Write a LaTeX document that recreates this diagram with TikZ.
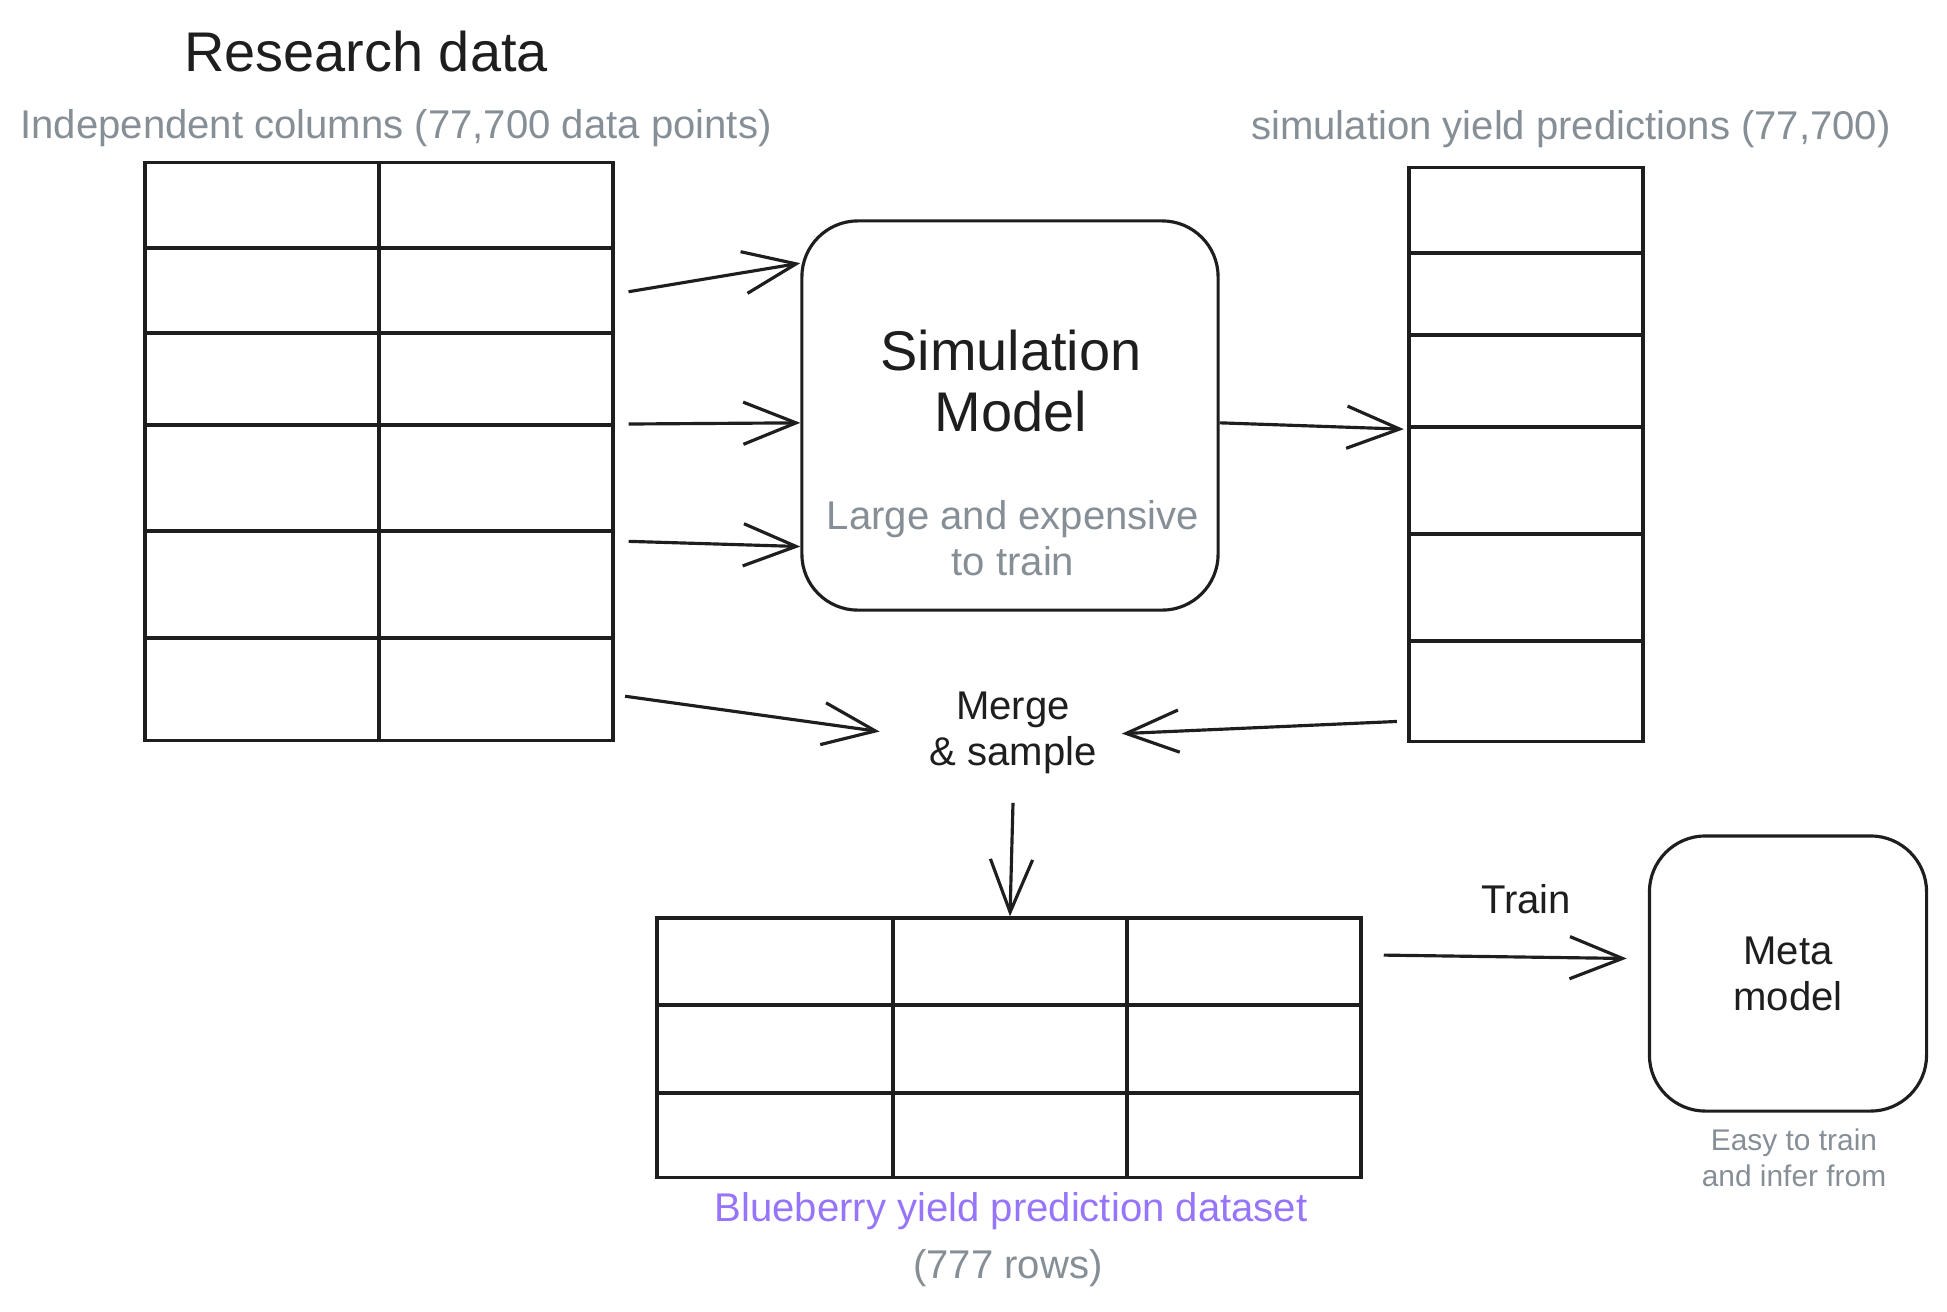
\documentclass[tikz,border=0pt]{standalone}
\usepackage{fontspec}
\setmainfont{Liberation Sans}
\usepackage{tikz}
\usetikzlibrary{arrows.meta}
\definecolor{ink}{HTML}{1E1E1E}
\definecolor{notegrey}{HTML}{868E96}
\definecolor{berry}{HTML}{9775FA}
\tikzset{>={Straight Barb[length=15pt,width=12pt]}}
\tikzset{datacol/.style = {shape=rectangle,draw=ink,line width=0.9pt,inner sep=0pt}}
\tikzset{rowline/.style = {draw=ink,line width=0.9pt}}
\tikzset{modelbox/.style = {shape=rectangle,draw=ink,line width=0.9pt,rounded corners=0.56cm,inner sep=0pt}}
\tikzset{flow/.style = {->,draw=ink,line width=0.9pt}}
\tikzset{bigtext/.style = {font=\fontsize{15.9pt}{17.6pt}\selectfont,text=ink,align=center}}
\tikzset{plaintext/.style = {font=\fontsize{11.4pt}{13.1pt}\selectfont,text=ink,align=center}}
\tikzset{greytext/.style = {font=\fontsize{11.4pt}{13.1pt}\selectfont,text=notegrey,align=center}}
\tikzset{smallgrey/.style = {font=\fontsize{8.5pt}{10.2pt}\selectfont,text=notegrey,align=center}}

\begin{document}
\begin{tikzpicture}[x=0.01cm,y=-0.01cm]
                    \useasboundingbox (0,0) rectangle (1947,1311);

                    \node[bigtext] (title) at (366,52) {Research data};
                    \node[greytext] (indep) at (396,128) {Independent columns (77,700 data points)};
                    \node[datacol,minimum width=2.34cm,minimum height=5.77cm] (lc1) at (262,451.5) {};
                    \node[datacol,minimum width=2.34cm,minimum height=5.77cm] (lc2) at (496,451.5) {};
                    \foreach \y in {248,333,425,531,638}
                        \draw[rowline] (145,\y) -- (613,\y);

                    \node[greytext] (simpred) at (1571,129) {simulation yield predictions (77,700)};
                    \node[datacol,minimum width=2.34cm,minimum height=5.73cm] (rt) at (1526,454.5) {};
                    \foreach \y in {253,335,427,534,641}
                        \draw[rowline] (1409,\y) -- (1643,\y);

                    \node[modelbox,minimum width=4.16cm,minimum height=3.89cm] (sim) at (1010,415.5) {};
                    \node[bigtext] (simname) at (1011,381) {Simulation\\Model};
                    \node[greytext] (simnote) at (1013,538) {Large and expensive\\to train};

                    \node[plaintext,inner xsep=11pt,inner ysep=8pt] (merge) at (1013,733) {Merge\\\& sample};

                    \node[datacol,minimum width=2.36cm,minimum height=2.59cm] (bc1) at (775,1047.5) {};
                    \node[datacol,minimum width=2.34cm,minimum height=2.59cm] (bc2) at (1010,1047.5) {};
                    \node[datacol,minimum width=2.34cm,minimum height=2.59cm] (bc3) at (1244,1047.5) {};
                    \foreach \y in {1005,1093}
                        \draw[rowline] (657,\y) -- (1361,\y);
                    \node[text=berry,font=\fontsize{11.4pt}{13.1pt}\selectfont] (blueberry) at (1011,1211) {Blueberry yield prediction dataset};
                    \node[greytext] (rows) at (1008,1268) {(777 rows)};

                    \node[modelbox,plaintext,minimum width=2.77cm,minimum height=2.75cm] (meta) at (1788,973.5) {Meta\\model};
                    \node[smallgrey] (metanote) at (1794,1158) {Easy to train\\and infer from};
                    \node[plaintext] (train) at (1526,899) {Train};

                    \draw[flow,shorten <=4pt] (lc2.53) -- (sim.144);
                    \draw[flow,shorten <=4pt] (lc2.13) -- (sim.182);
                    \draw[flow,shorten <=4pt] (lc2.323) -- (sim.212);
                    \draw[flow,shorten >=1pt] (sim.-2) -- (rt.168);
                    \draw[flow,shorten <=3pt,shorten >=3pt] (lc2.296) -- (merge.west);
                    \draw[flow,shorten <=3pt,shorten >=-4pt] (rt.246) -- (merge.east);
                    \draw[flow] (merge.south) -- (bc2.north);
                    \draw[flow,shorten <=6pt,shorten >=6pt] (bc3.38) -- (meta.174);
                \end{tikzpicture}
\end{document}
